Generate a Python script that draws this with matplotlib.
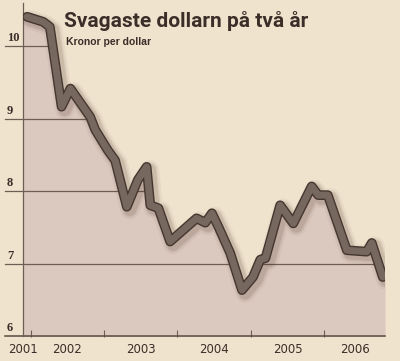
import matplotlib
matplotlib.use("Agg")
import matplotlib.pyplot as plt
import matplotlib.transforms as mtransforms
import numpy as np

# ---- data ----
years = [2001.95, 2002.17, 2002.26, 2002.42, 2002.54, 2002.81, 2002.88, 2003.05,
         2003.15, 2003.31, 2003.46, 2003.58, 2003.63, 2003.74, 2003.90, 2004.26,
         2004.38, 2004.47, 2004.56, 2004.72, 2004.88, 2005.03, 2005.13, 2005.20,
         2005.40, 2005.58, 2005.83, 2005.92, 2006.05, 2006.31, 2006.58, 2006.65,
         2006.80]
sek_per_usd = [10.41, 10.34, 10.27, 9.17, 9.42, 9.03, 8.85, 8.57,
               8.43, 7.79, 8.16, 8.34, 7.81, 7.77, 7.31, 7.63,
               7.57, 7.70, 7.51, 7.15, 6.64, 6.82, 7.06, 7.08,
               7.81, 7.56, 8.07, 7.95, 7.95, 7.19, 7.17, 7.29,
               6.82]
y_ticks = [6, 7, 8, 9, 10]
y_tick_labels = ["6", "7", "8", "9", "10"]
year_bounds = [2002, 2003, 2004, 2005, 2006]
year_labels = ["2001", "2002", "2003", "2004", "2005", "2006"]
year_starts = [2001, 2002, 2003, 2004, 2005, 2006]
title = "Svagaste dollarn på två år"
subtitle = "Kronor per dollar"

# ---- style ----
bg = "#efe3ce"
fill_c = "#dbc9c0"
line_in = "#76675f"
line_out = "#45372f"
ink = "#3b2e28"
grid_c = "#6e5d52"

W, H = 400, 361
fig = plt.figure(figsize=(W / 100, H / 100), dpi=100)
fig.patch.set_facecolor(bg)

x0, x1, yb, yt = 22.7, 385, 336.5, 3
ax = fig.add_axes([x0 / W, 1 - yb / H, (x1 - x0) / W, (yb - yt) / H])
ax.set_facecolor(bg)
xmin, xmax = 2001.89, 2006.83
ax.set_xlim(xmin, xmax)
ax.set_ylim(6, 10.6)
for s in ["top", "right", "bottom"]:
    ax.spines[s].set_visible(False)
ax.spines["left"].set_color(grid_c)
ax.spines["left"].set_linewidth(0.9)

yrs = np.array(years)
vals = np.array(sek_per_usd)

# area under the curve
area = ax.fill_between(np.r_[xmin, yrs, xmax], np.r_[vals[0], vals, vals[-1]], 6,
                       color=fill_c, lw=0, zorder=1)
area_path = area.get_paths()[0]

# gridlines: inside the shaded area only, plus a stub left of the axis
blend = mtransforms.blended_transform_factory(ax.transAxes, ax.transData)
for v in y_ticks:
    if v == 6:
        ax.plot([-0.048, 1.0], [v, v], transform=blend, clip_on=False,
                color="#5a4a40", lw=1.1, zorder=2)
        continue
    ax.plot([-0.048, 0.0], [v, v], transform=blend, clip_on=False,
            color=grid_c, lw=0.9, zorder=2)
    gl, = ax.plot([0.0, 1.0], [v, v], transform=blend, color=grid_c, lw=0.9,
                  zorder=2)
    gl.set_clip_path(area_path, ax.transData)
for v, lab in zip(y_ticks, y_tick_labels):
    ax.annotate(lab, xy=(-0.043, v), xycoords=blend, xytext=(0, 1.5),
                textcoords="offset points", ha="left", va="bottom",
                fontsize=9, color=ink, family=["Liberation Serif", "DejaVu Serif"],
                fontweight="bold", annotation_clip=False)

# soft shadow of the line
for k, (w, a) in enumerate([(14, 0.05), (11, 0.08), (9, 0.10)]):
    tr = mtransforms.offset_copy(ax.transData, fig=fig, x=3, y=-3, units="dots")
    ax.plot(yrs, vals, color="#4a3020", lw=w, alpha=a, transform=tr,
            solid_joinstyle="round", solid_capstyle="round", zorder=3)

ax.plot(yrs, vals, color=line_out, lw=7.0, solid_joinstyle="round",
        solid_capstyle="round", zorder=4)
ax.plot(yrs, vals, color=line_in, lw=5.0, solid_joinstyle="round",
        solid_capstyle="round", zorder=5)

# ticks at year boundaries
ax.set_xticks(year_bounds)
ax.set_yticks([])
ax.tick_params(axis="x", direction="in", length=5, width=0.8, color=grid_c,
               labelbottom=False)

# year labels centred in the visible part of each year
blend_x = mtransforms.blended_transform_factory(ax.transData, ax.transAxes)
for ys, lab in zip(year_starts, year_labels):
    c = (max(ys, xmin) + min(ys + 1, xmax)) / 2
    if ys == year_starts[0]:
        c = xmin
    ax.text(c, -0.04, lab, transform=blend_x, ha="center", va="center",
            fontsize=8.5, color=ink, family=["DejaVu Sans"])

fig.text(64 / W, 1 - 27 / H, title, ha="left", va="baseline", fontsize=15,
         fontweight="bold", color=ink, family=["Roboto", "DejaVu Sans"])
fig.text(66 / W, 1 - 45 / H, subtitle, ha="left", va="baseline", fontsize=7.5,
         fontweight="bold", color=ink, family=["Liberation Sans", "DejaVu Sans"])

fig.savefig("out.png", dpi=100, facecolor=bg)
